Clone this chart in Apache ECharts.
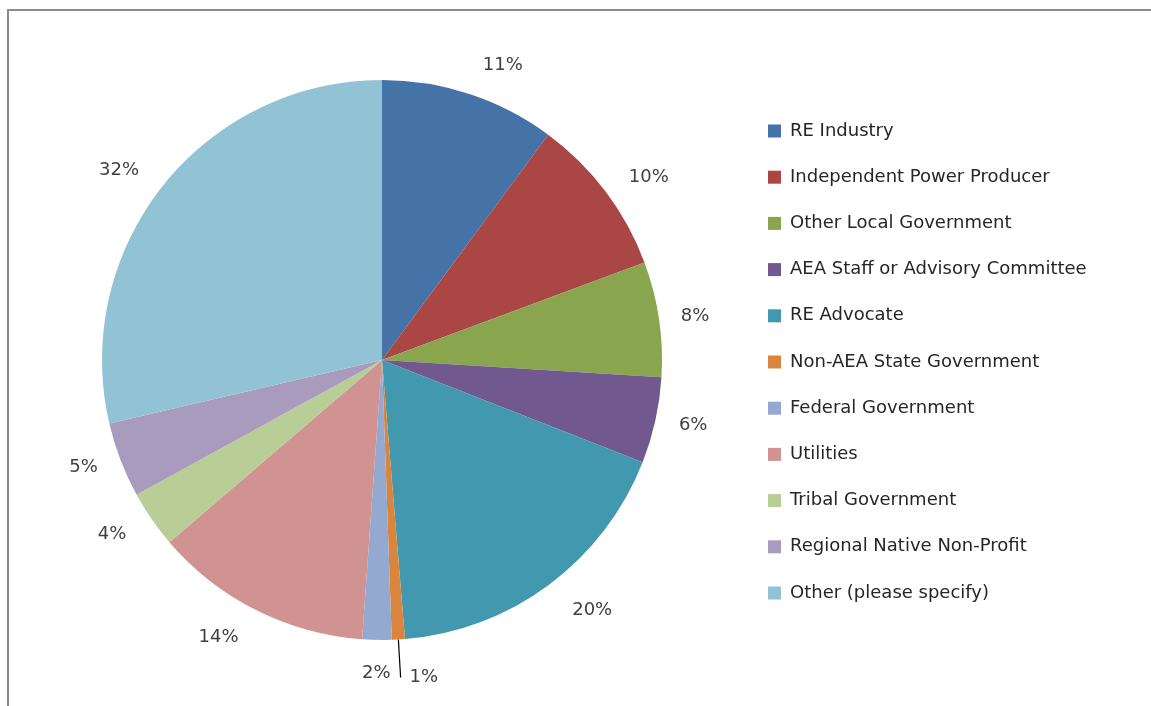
<!DOCTYPE html>
<html>
<head>
<meta charset="utf-8">
<script src="https://cdn.jsdelivr.net/npm/echarts@6/dist/echarts.min.js"></script>
<style>
html,body{margin:0;padding:0;background:#fff;}
#chart{width:1151px;height:706px;}
</style>
</head>
<body>
<div id="chart"></div>
<script>
const categories = ['RE Industry','Independent Power Producer','Other Local Government','AEA Staff or Advisory Committee','RE Advocate','Non-AEA State Government','Federal Government','Utilities','Tribal Government','Regional Native Non-Profit','Other (please specify)'];
const values = [11.4, 10.4, 7.5, 5.6, 20.0, 0.85, 1.9, 14.2, 3.7, 4.9, 32.3];
const colors = ['#4572A7','#AA4643','#89A54E','#71588F','#4198AF','#DB843D','#93A9CF','#D19392','#B9CD96','#A99BBD','#92C3D4'];
const leaderIndex = 5;   // the 1% slice uses a leader line
const ringIndex = 6;     // the 2% label is centred under its slice
const labelReach = [30, 24, 18, 20, 32, 38, 30, 30, 26, 20, 25]; // label distance from the pie edge

const font = '"DejaVu Sans", "Open Sans", sans-serif';
const chart = echarts.init(document.getElementById('chart'));

const mainData = categories.map((c, i) => ({
  name: c, value: values[i],
  itemStyle: {color: colors[i]},
  label: {show: i !== ringIndex, distanceToLabelLine: i === leaderIndex ? 9 : 4},
  labelLine: {show: i === leaderIndex, length: labelReach[i], length2: 0}
}));
const ghostData = categories.map((c, i) => ({
  name: c, value: values[i],
  label: {show: i === ringIndex}
}));

chart.setOption({
  animation: false,
  graphic: [{
    type: 'polyline', shape: {points: [[8, 760], [8, 10], [1200, 10]]},
    style: {fill: 'none', stroke: '#8a8a8a', lineWidth: 2}, silent: true
  }],
  legend: {
    orient: 'vertical', left: 768, top: 122, padding: 0,
    itemWidth: 13, itemHeight: 13, itemGap: 28.2,
    icon: 'rect',
    textStyle: {fontFamily: font, fontSize: 18, color: '#262626', padding: [0,0,0,4]},
    data: categories
  },
  series: [{
    type: 'pie', center: [382, 360], radius: [0, 280],
    startAngle: 90, clockwise: true, silent: true,
    avoidLabelOverlap: false,
    data: mainData,
    label: {
      position: 'outside', formatter: p => Math.round(p.value) + '%',
      fontFamily: font, fontSize: 18, color: '#404040'
    },
    labelLine: {lineStyle: {color: '#000', width: 1.2}}
  }, {
    type: 'pie', center: [382, 360], radius: [280, 340],
    startAngle: 90, clockwise: true, silent: true,
    itemStyle: {color: 'transparent'},
    data: ghostData,
    label: {
      position: 'inside', formatter: p => Math.round(p.value) + '%',
      fontFamily: font, fontSize: 18, color: '#404040'
    },
    labelLine: {show: false}
  }]
});
</script>
</body>
</html>
